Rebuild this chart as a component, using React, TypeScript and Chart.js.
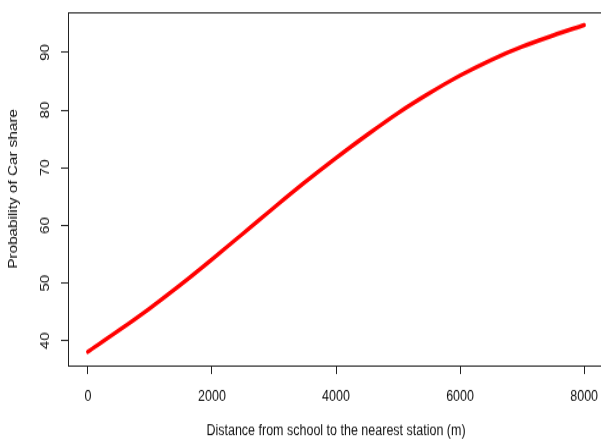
import React, { useEffect, useRef } from "react";
import { Chart, registerables } from "chart.js";

Chart.register(...registerables);

const distances = [0, 500, 1000, 1500, 2000, 2500, 3000, 3500, 4000, 4500, 5000, 5500, 6000, 6500, 7000, 7500, 8000];
const probabilities = [38.1, 41.8, 45.65, 49.75, 54.1, 58.6, 63.1, 67.5, 71.7, 75.7, 79.5, 82.9, 86.0, 88.7, 91.0, 92.95, 94.75];
const xTicks = [0, 2000, 4000, 6000, 8000];
const yTicks = [40, 50, 60, 70, 80, 90];
const xTitle = "Distance from school to the nearest station (m)";
const yTitle = "Probability of Car share";

const FONT = '"Liberation Sans", Arial, Helvetica, sans-serif';
// The reference picture is stretched vertically: draw at 606x360 and show at 606x440.
const CANVAS_W = 606;
const CANVAS_H = 360;
const SHOW_H = 440;

const boxPlugin = {
  id: "rbox",
  afterDraw(chart: any) {
    const { ctx, chartArea } = chart;
    ctx.save();
    ctx.strokeStyle = "#222";
    ctx.lineWidth = 1;
    ctx.strokeRect(
      Math.round(chartArea.left) + 0.5,
      Math.round(chartArea.top) + 0.5,
      Math.round(chartArea.right - chartArea.left),
      Math.round(chartArea.bottom - chartArea.top)
    );
    ctx.restore();
  },
};

export default function App() {
  const ref = useRef<HTMLCanvasElement | null>(null);

  useEffect(() => {
    if (!ref.current) return;
    const points = distances.map((d, i) => ({ x: d, y: probabilities[i] }));
    const chart = new Chart(ref.current, {
      type: "line",
      data: {
        datasets: [
          {
            data: points,
            borderColor: "#ff0000",
            borderWidth: 3.5,
            borderCapStyle: "round",
            borderJoinStyle: "round",
            pointRadius: 0,
            fill: false,
            cubicInterpolationMode: "monotone",
          },
        ],
      },
      options: {
        animation: false,
        responsive: false,
        devicePixelRatio: 1,
        layout: { padding: { top: 10, right: 2, left: 0, bottom: 0 } },
        plugins: { legend: { display: false }, tooltip: { enabled: false } },
        scales: {
          x: {
            type: "linear",
            min: -320,
            max: 8320,
            afterBuildTicks: (s: any) => {
              s.ticks = xTicks.map((v) => ({ value: v }));
            },
            afterFit: (s: any) => {
              s.height = 61;
              s.paddingLeft = 0;
              s.paddingRight = 0;
            },
            border: { display: false },
            grid: { drawOnChartArea: false, drawTicks: true, tickLength: 7, color: "#222", lineWidth: 1 },
            ticks: {
              color: "#111",
              font: { family: FONT, size: 12.5 },
              padding: 11,
              maxRotation: 0,
              minRotation: 0,
              callback: (v: any) => String(v),
            },
            title: {
              display: true,
              text: xTitle,
              color: "#111",
              font: { family: FONT, size: 12.5 },
              padding: { top: 0, bottom: 0 },
            },
          },
          y: {
            type: "linear",
            min: 35.73,
            max: 96.97,
            afterBuildTicks: (s: any) => {
              s.ticks = yTicks.map((v) => ({ value: v }));
            },
            afterFit: (s: any) => {
              s.width = 68;
              s.paddingTop = 0;
              s.paddingBottom = 0;
            },
            border: { display: false },
            grid: { drawOnChartArea: false, drawTicks: true, tickLength: 7, color: "#222", lineWidth: 1 },
            ticks: {
              color: "#111",
              font: { family: FONT, size: 12.5 },
              padding: 9,
              minRotation: 90,
              maxRotation: 90,
              crossAlign: "center",
              callback: (v: any) => String(v),
            },
            title: {
              display: true,
              text: yTitle,
              color: "#111",
              font: { family: FONT, size: 12.5 },
              padding: { top: 6.5, bottom: 0 },
            },
          },
        },
      } as any,
      plugins: [boxPlugin],
    });
    return () => chart.destroy();
  }, []);

  return (
    <div
      style={{
        position: "fixed",
        left: 0,
        top: 0,
        width: 601,
        height: SHOW_H,
        overflow: "hidden",
        background: "#fff",
      }}
    >
      <canvas
        ref={ref}
        width={CANVAS_W}
        height={CANVAS_H}
        style={{ display: "block", width: CANVAS_W + "px", height: SHOW_H + "px" }}
      />
    </div>
  );
}
